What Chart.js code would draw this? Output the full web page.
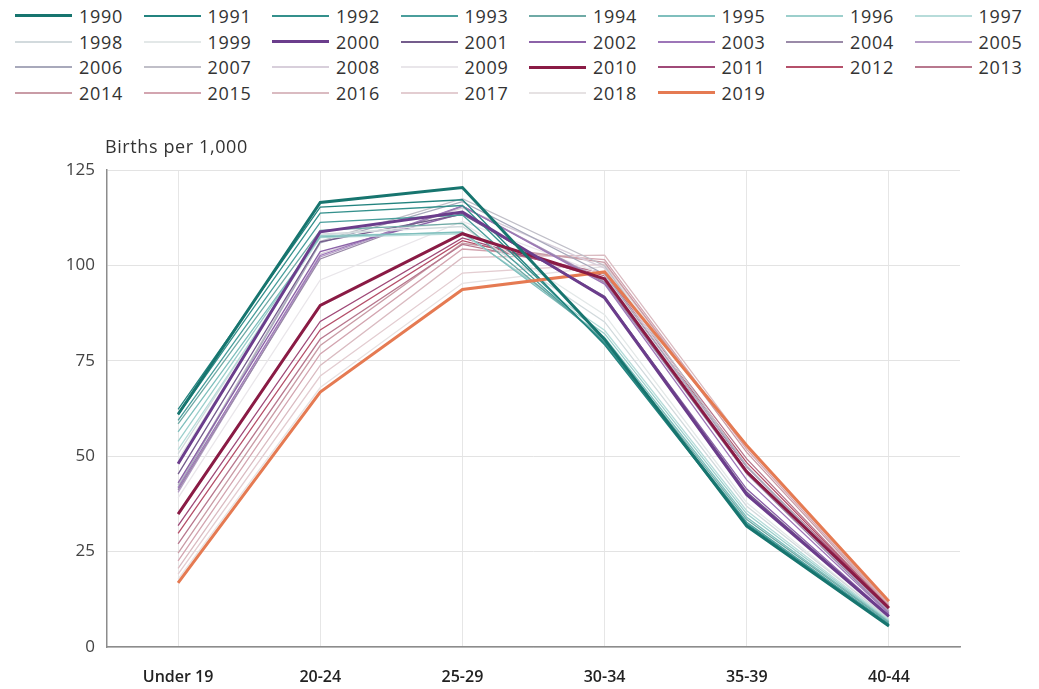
<!DOCTYPE html>
<html>
<head>
<meta charset="utf-8">
<script src="https://cdn.jsdelivr.net/npm/chart.js@4.4.1/dist/chart.umd.min.js"></script>
<style>
  body { margin: 0; background: #fff; width: 1039px; height: 689px; overflow: hidden; position: relative; font-family: "Open Sans", sans-serif; }
  #leyenda { position: absolute; top: 3px; left: 15px; display: grid; grid-template-columns: repeat(8, 128.5px); grid-auto-rows: 25.7px; }
  .item { display: flex; align-items: center; font-size: 18px; color: #333; letter-spacing: 0.7px; }
  .muestra { width: 57px; margin-right: 7px; display: inline-block; }
  #contenedor { position: absolute; top: 108px; left: 0; width: 1039px; height: 581px; }
</style>
</head>
<body>
<div id="leyenda"></div>
<div id="contenedor"><canvas id="grafico" width="1039" height="581"></canvas></div>
<script>
// Grupos de edad (eje x)
const gruposEdad = ["Under 19", "20-24", "25-29", "30-34", "35-39", "40-44"];

// Años, uno por serie
const anios = [
  "1990", "1991", "1992", "1993", "1994", "1995", "1996", "1997", "1998", "1999",
  "2000", "2001", "2002", "2003", "2004", "2005", "2006", "2007", "2008", "2009",
  "2010", "2011", "2012", "2013", "2014", "2015", "2016", "2017", "2018", "2019"
];

// Tasas por grupo de edad, de 1990 a 2019
const tasaMenor19 = [61.0, 62.3, 60.8, 59.4, 58.5, 56.4, 53.9, 51.7, 50.6, 49.2,
  48.0, 45.3, 43.0, 41.6, 41.1, 40.5, 41.9, 42.5, 41.5, 39.1,
  34.8, 31.8, 29.8, 27.0, 24.6, 22.6, 20.6, 19.1, 17.8, 16.8];
const tasa20a24 = [116.5, 115.3, 113.7, 111.3, 109.2, 107.5, 107.8, 107.3, 108.2, 107.9,
  108.8, 106.2, 103.6, 102.6, 101.7, 102.2, 105.9, 106.3, 103.0, 96.2,
  89.5, 85.3, 83.1, 80.7, 79.0, 76.8, 73.8, 71.0, 68.0, 66.8];
const tasa25a29 = [120.4, 117.2, 115.7, 113.2, 111.0, 108.8, 108.6, 108.3, 110.2, 111.2,
  114.0, 113.4, 113.6, 115.6, 115.5, 115.5, 116.7, 117.5, 115.1, 111.5,
  108.3, 107.2, 106.5, 105.5, 105.8, 104.3, 102.1, 98.0, 95.3, 93.7];
const tasa30a34 = [80.6, 79.2, 79.6, 79.9, 80.4, 81.1, 82.1, 83.0, 85.2, 87.1,
  91.5, 91.9, 91.5, 95.1, 95.5, 95.8, 97.7, 99.9, 99.3, 97.5,
  96.5, 96.5, 97.3, 98.0, 100.8, 101.5, 102.7, 100.3, 99.7, 98.3];
const tasa35a39 = [31.7, 31.9, 32.3, 32.7, 33.4, 34.0, 34.9, 35.7, 36.9, 37.8,
  39.9, 40.6, 41.4, 43.8, 45.4, 46.3, 47.3, 47.5, 46.1, 46.1,
  45.9, 47.2, 48.3, 49.3, 51.0, 51.8, 52.7, 52.3, 52.6, 52.8];
const tasa40a44 = [5.5, 5.5, 5.9, 6.1, 6.4, 6.6, 6.8, 7.1, 7.4, 7.4,
  8.0, 8.1, 8.3, 8.7, 8.9, 9.1, 9.4, 9.5, 9.8, 10.0,
  10.2, 10.3, 10.4, 10.4, 10.6, 11.0, 11.4, 11.6, 11.8, 12.0];

// Valores del eje y
const marcasY = [0, 25, 50, 75, 100, 125];

// Colores de cada año
const colores = [
  "#17756f", "#23837f", "#34908c", "#4a9e9c", "#6faaa6", "#7fbfbd", "#9ccfcc", "#b7dcda", "#d2dadd", "#e3e8e8",
  "#6b3d8c", "#745c8c", "#8c62a8", "#9d76b8", "#9a8aa8", "#b49cc6", "#a8a9bb", "#c0bfc8", "#d8cfdb", "#e9e6ea",
  "#8a1b45", "#a04a78", "#b5506a", "#b8788e", "#c99ca6", "#d3a5b0", "#dabbc1", "#e3cdd1", "#e6e2e3", "#e57a52"
];
const aniosDestacados = ["1990", "2000", "2010", "2019"];

const tasas = [tasaMenor19, tasa20a24, tasa25a29, tasa30a34, tasa35a39, tasa40a44];

const datasets = anios.map((anio, i) => {
  const destacado = aniosDestacados.includes(anio);
  return {
    label: anio,
    data: tasas.map(t => t[i]),
    borderColor: colores[i],
    backgroundColor: colores[i],
    borderWidth: destacado ? 3 : 1.3,
    pointRadius: 0,
    tension: 0,
    order: destacado ? 0 : 1
  };
});

// Texto "Births per 1,000" sobre el eje y
const tituloEjeY = {
  id: "tituloEjeY",
  afterDraw(chart) {
    const ctx = chart.ctx;
    ctx.save();
    ctx.font = "18px 'Open Sans'";
    ctx.letterSpacing = "0.6px";
    ctx.fillStyle = "#333";
    ctx.textAlign = "left";
    ctx.textBaseline = "middle";
    ctx.fillText("Births per 1,000", chart.chartArea.left - 2, chart.chartArea.top - 22);
    ctx.restore();
  }
};

const grafico = new Chart(document.getElementById("grafico"), {
  type: "line",
  data: { labels: gruposEdad, datasets: datasets },
  options: {
    responsive: false,
    animation: false,
    layout: { padding: { top: 62, right: 79, left: 0, bottom: 0 } },
    plugins: {
      legend: { display: false },
      tooltip: { enabled: false }
    },
    scales: {
      x: {
        offset: true,
        afterFit: s => { s.height = 42; },
        grid: { color: "#e6e6e6", lineWidth: 1, drawTicks: false, offset: false },
        border: { color: "#8c8c8c", width: 1.5 },
        ticks: {
          padding: 21,
          color: "#222",
          font: { family: "'Open Sans'", size: 16, weight: "600" }
        }
      },
      y: {
        min: 0,
        max: 125,
        afterFit: s => { s.width = 107; },
        afterBuildTicks: s => { s.ticks = marcasY.map(v => ({ value: v })); },
        grid: { color: "#e3e3e3", lineWidth: 1, drawTicks: false },
        border: { color: "#8c8c8c", width: 1.5 },
        ticks: {
          padding: 12,
          color: "#444",
          font: { family: "'Open Sans'", size: 17 }
        }
      }
    }
  },
  plugins: [tituloEjeY]
});

// Leyenda en columnas fijas
const leyenda = document.getElementById("leyenda");
grafico.data.datasets.forEach(ds => {
  const item = document.createElement("div");
  item.className = "item";
  const muestra = document.createElement("span");
  muestra.className = "muestra";
  muestra.style.height = Math.max(ds.borderWidth, 2) + "px";
  muestra.style.background = ds.borderColor;
  const texto = document.createElement("span");
  texto.textContent = ds.label;
  item.appendChild(muestra);
  item.appendChild(texto);
  leyenda.appendChild(item);
});
</script>
</body>
</html>
